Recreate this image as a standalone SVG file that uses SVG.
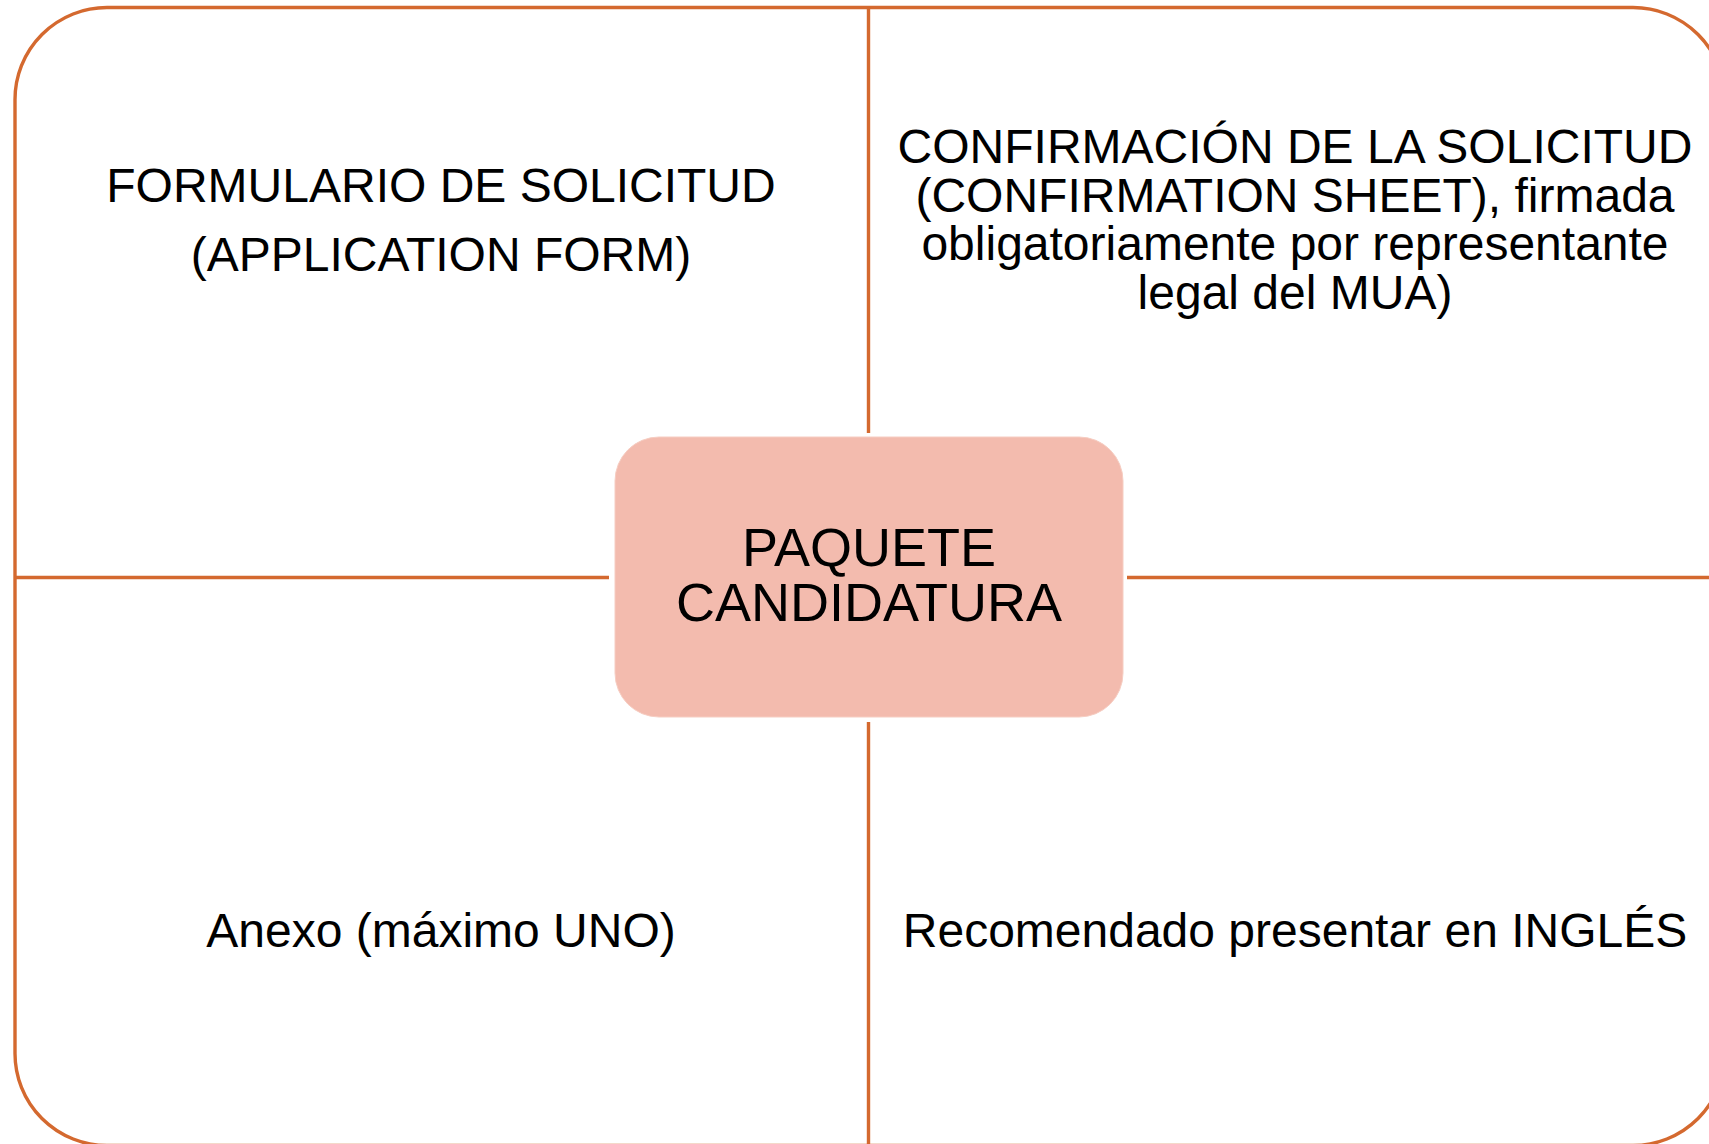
<svg xmlns="http://www.w3.org/2000/svg" width="1709" height="1144" viewBox="0 0 1709 1144">
<style>
.ln{stroke:#D4692F;stroke-width:3.4;fill:none}
.t{font-family:"Liberation Sans",Arial,sans-serif;font-size:48px;fill:#000;text-anchor:middle}
.c{font-family:"Liberation Sans",Arial,sans-serif;font-size:54px;fill:#000;text-anchor:middle}
</style>
<rect x="0" y="0" width="1709" height="1144" fill="#ffffff"/>
<g id="frame">
<rect class="ln" x="15" y="7.5" width="1710" height="1138" rx="92" ry="92"/>
</g>
<g id="connectors">
<line class="ln" x1="868.5" y1="7.5" x2="868.5" y2="433"/>
<line class="ln" x1="868.5" y1="722" x2="868.5" y2="1144"/>
<line class="ln" x1="15" y1="577.5" x2="609" y2="577.5"/>
<line class="ln" x1="1127" y1="577.5" x2="1709" y2="577.5"/>
</g>
<g id="center">
<rect x="615" y="437" width="508" height="280" rx="44" ry="44" fill="#F3BBAE" stroke="#F6CDC2" stroke-width="1"/>
<text class="c" x="869" y="566">PAQUETE</text>
<text class="c" x="869" y="621">CANDIDATURA</text>
</g>
<g id="top-left">
<text class="t" x="441" y="202">FORMULARIO DE SOLICITUD</text>
<text class="t" x="441" y="271">(APPLICATION FORM)</text>
</g>
<g id="top-right">
<text class="t" x="1295" y="163">CONFIRMACIÓN DE LA SOLICITUD</text>
<text class="t" x="1295" y="212">(CONFIRMATION SHEET), firmada</text>
<text class="t" x="1295" y="260">obligatoriamente por representante</text>
<text class="t" x="1295" y="309">legal del MUA)</text>
</g>
<g id="bottom-left">
<text class="t" x="441" y="947">Anexo (máximo UNO)</text>
</g>
<g id="bottom-right">
<text class="t" x="1295" y="947">Recomendado presentar en INGLÉS</text>
</g>
</svg>
